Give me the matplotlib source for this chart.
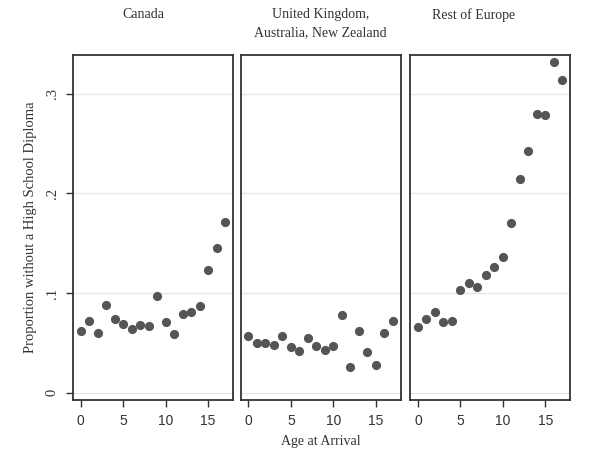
import matplotlib
matplotlib.use("Agg")
import matplotlib.pyplot as plt

ages = list(range(18))
titles = ["Canada", "United Kingdom,\nAustralia, New Zealand", "Rest of Europe"]
canada = [0.0615, 0.072, 0.060, 0.088, 0.0736, 0.0686, 0.0639, 0.0679, 0.0672,
          0.0973, 0.0713, 0.0591, 0.0794, 0.0807, 0.0875, 0.1236, 0.1456, 0.1713]
uk_aus_nz = [0.0574, 0.050, 0.050, 0.0483, 0.0574, 0.0456, 0.0422, 0.0551, 0.047,
             0.0426, 0.0473, 0.0777, 0.026, 0.0615, 0.0405, 0.0277, 0.0598, 0.072]
rest_europe = [0.0658, 0.0738, 0.0812, 0.0705, 0.0721, 0.1034, 0.1097, 0.106, 0.118,
               0.1265, 0.1362, 0.170, 0.215, 0.2423, 0.280, 0.279, 0.332, 0.314]
series = [canada, uk_aus_nz, rest_europe]
yticks = [0, 0.1, 0.2, 0.3]
yticklabels = ["0", ".1", ".2", ".3"]
xticks = [0, 5, 10, 15]

W, H = 600, 455
fig = plt.figure(figsize=(6.0, 4.55), dpi=100)
lefts = [72.7, 240.5, 410]
title_x = [143, 320.5, 474]
width = 160
top, bottom = 55, 400
serif = "Liberation Serif"
sans = "Liberation Sans"
frame_col = "#333333"
text_col = "#333333"

for i, (l, t, vals) in enumerate(zip(lefts, titles, series)):
    ax = fig.add_axes([l / W, 1 - bottom / H, width / W, (bottom - top) / H])
    ax.set_xlim(-0.94, 17.9)
    ax.set_ylim(-0.0073, 0.339)
    for yv in yticks:
        ax.axhline(yv, color="#e6e6e6", lw=1.0, zorder=0)
    ax.plot(ages, vals, "o", color="#555555", markersize=6.6, markeredgewidth=0, zorder=3)
    for s in ax.spines.values():
        s.set_color(frame_col)
        s.set_linewidth(1.3)
    ax.set_xticks(xticks)
    ax.set_xticklabels([str(v) for v in xticks], fontfamily=sans, fontsize=10, color=text_col)
    ax.tick_params(axis="x", direction="out", length=5, width=1.0, color=frame_col, pad=5)
    if i == 0:
        ax.set_yticks(yticks)
        ax.set_yticklabels(yticklabels, fontfamily=serif, fontsize=10.5, rotation=90,
                           va="center", color=text_col)
        ax.tick_params(axis="y", direction="out", length=5, width=1.0, color=frame_col, pad=5)
        ax.set_ylabel("Proportion without a High School Diploma", fontfamily=serif,
                      fontsize=10.5, color=text_col, labelpad=6)
    else:
        ax.set_yticks([])
    if i == 1:
        ax.set_xlabel("Age at Arrival", fontfamily=serif, fontsize=10, color=text_col, labelpad=5)
    fig.text(title_x[i] / W, 1 - 8 / H, t, ha="center", va="top", multialignment="center",
             fontfamily=serif, fontsize=10, color=text_col, linespacing=1.5)

fig.savefig("out.png", dpi=100)
